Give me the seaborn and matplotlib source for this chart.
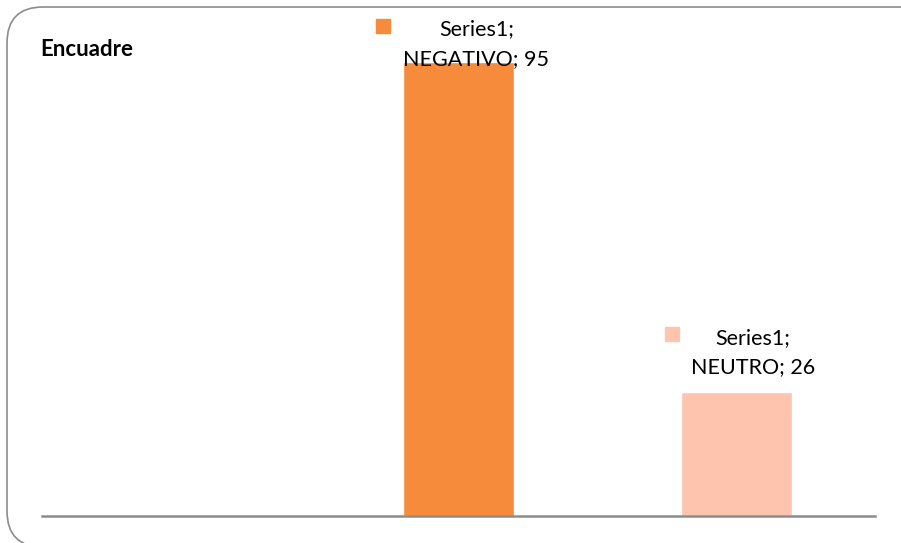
import matplotlib
matplotlib.use("Agg")
import matplotlib.pyplot as plt
from matplotlib.patches import FancyBboxPatch
from matplotlib.transforms import offset_copy
import seaborn as sns
import pandas as pd

# data
categories = ["POSITIVO", "NEGATIVO", "NEUTRO"]
values = [0, 95, 26]
series_name = "Series1"
bar_colors = ["#F68B3B", "#F68B3B", "#FFC4AE"]

sns.set_theme(style="white")
plt.rcParams["font.family"] = ["Lato", "DejaVu Sans"]

df = pd.DataFrame({"cat": categories, "val": values})

fig = plt.figure(figsize=(9.01, 5.43), dpi=100)
ax = fig.add_axes([42 / 901, 27 / 543, 833 / 901, 478 / 543])

sns.barplot(data=df, x="cat", y="val", hue="cat", palette=bar_colors,
            order=categories, width=0.4, legend=False, ax=ax, saturation=1)

ax.set_xlim(-0.5, 2.5)
ax.set_ylim(0, 100)
for s in ["top", "right", "left"]:
    ax.spines[s].set_visible(False)
ax.spines["bottom"].set_color("#8C8C8C")
ax.spines["bottom"].set_linewidth(1.8)
ax.set_xticks([])
ax.set_yticks([])
ax.set_xlabel("")
ax.set_ylabel("")
ax.patch.set_alpha(0)

# data labels: (text dx, text dy, square dx, square dy) in pixels from bar top
label_offsets = {"NEGATIVO": (18, 18, -75, 36), "NEUTRO": (17, 39, -64, 58)}
for i, (c, v) in enumerate(zip(categories, values)):
    if v == 0:
        continue
    tdx, tdy, sdx, sdy = label_offsets[c]
    ax.annotate(f"{series_name};\n{c}; {v}", xy=(i, v), xytext=(tdx * 0.72, tdy * 0.72),
                textcoords="offset points", ha="center", va="center",
                fontsize=15.5, linespacing=1.6, color="black", annotation_clip=False)
    ax.plot([i], [v], marker="s", markersize=10, color=bar_colors[i], clip_on=False,
            transform=offset_copy(ax.transData, fig=fig, x=sdx * 0.72, y=sdy * 0.72,
                                  units="points"))

fig.text(40 / 901, 1 - 50 / 543, "Encuadre", fontsize=16, fontweight="bold",
         ha="left", va="center", color="black")

# rounded chart-area border (right side runs off the image)
border = FancyBboxPatch((7 / 901, -4 / 543), 930 / 901, 540 / 543,
                        boxstyle="round,pad=0,rounding_size=0.04",
                        transform=fig.transFigure, fill=False,
                        edgecolor="#8C8C8C", linewidth=1.2, mutation_aspect=901 / 543)
fig.patches.append(border)

fig.savefig("out.png", dpi=100)
